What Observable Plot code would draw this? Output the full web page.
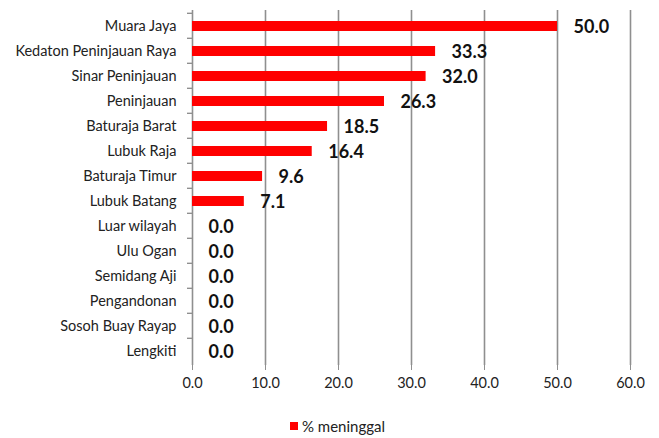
<!DOCTYPE html>
<html>
<head>
<meta charset="utf-8">
<script src="https://cdn.jsdelivr.net/npm/d3@7"></script>
<script src="https://cdn.jsdelivr.net/npm/@observablehq/plot@0.6"></script>
<style>
  body { margin: 0; background: #fff; }
  #chart { width: 659px; height: 438px; position: relative; font-family: Lato, "Open Sans", sans-serif; }
  #legend { position: absolute; left: 290px; top: 417px; height: 18px; line-height: 18px; font-size: 15px; color: #222; display: flex; align-items: center; }
  #legend span.sw { display: inline-block; width: 8px; height: 8px; background: #ff0000; margin-right: 4px; }
</style>
</head>
<body>
<div id="chart"></div>
<script>
const categories = ["Muara Jaya", "Kedaton Peninjauan Raya", "Sinar Peninjauan", "Peninjauan", "Baturaja Barat", "Lubuk Raja", "Baturaja Timur", "Lubuk Batang", "Luar wilayah", "Ulu Ogan", "Semidang Aji", "Pengandonan", "Sosoh Buay Rayap", "Lengkiti"];
const values = [50.0, 33.3, 32.0, 26.3, 18.5, 16.4, 9.6, 7.1, 0.0, 0.0, 0.0, 0.0, 0.0, 0.0];
const xTicks = [0, 10, 20, 30, 40, 50, 60];
const seriesName = "% meninggal";

const data = categories.map((c, i) => ({name: c, value: values[i]}));
const W = 659, H = 408, mt = 10, mb = 43;
const step = (H - mt - mb) / categories.length;
const gray = "#8f8f8f";

const chart = Plot.plot({
  width: W,
  height: H,
  marginLeft: 192,
  marginRight: 29,
  marginTop: mt,
  marginBottom: mb,
  style: {fontFamily: "Lato, 'Open Sans', sans-serif", background: "#fff", color: "#222"},
  x: {domain: [0, 60], label: null},
  y: {domain: categories, paddingInner: 0, paddingOuter: 0, label: null},
  marks: [
    Plot.ruleX(xTicks, {stroke: gray, strokeWidth: 1.6}),
    Plot.ruleY([0], {frameAnchor: "bottom", stroke: gray, strokeWidth: 1.6}),
    Plot.barX(data, {x: "value", y: "name", fill: "#ff0000", insetTop: 8, insetBottom: 7}),
    Plot.ruleY(categories, {y: d => d, x1: 0, x2: 0, insetLeft: -5, dy: -step / 2, stroke: gray, strokeWidth: 1.4}),
    Plot.axisX({ticks: xTicks, tickFormat: d3.format(".1f"), tickSize: 5, tickPadding: 7, stroke: gray, fontSize: 14.5, label: null}),
    Plot.axisY({tickSize: 0, tickPadding: 16, fontSize: 14.5, label: null}),
    Plot.text(data, {x: "value", y: "name", text: d => d.value.toFixed(1), textAnchor: "start", dx: 16, dy: 1, fontWeight: "bold", fontSize: 18, fill: "#111"})
  ]
});
document.getElementById("chart").appendChild(chart);
const leg = document.createElement("div");
leg.id = "legend";
leg.innerHTML = '<span class="sw"></span><span>' + seriesName + '</span>';
document.getElementById("chart").appendChild(leg);
</script>
</body>
</html>
